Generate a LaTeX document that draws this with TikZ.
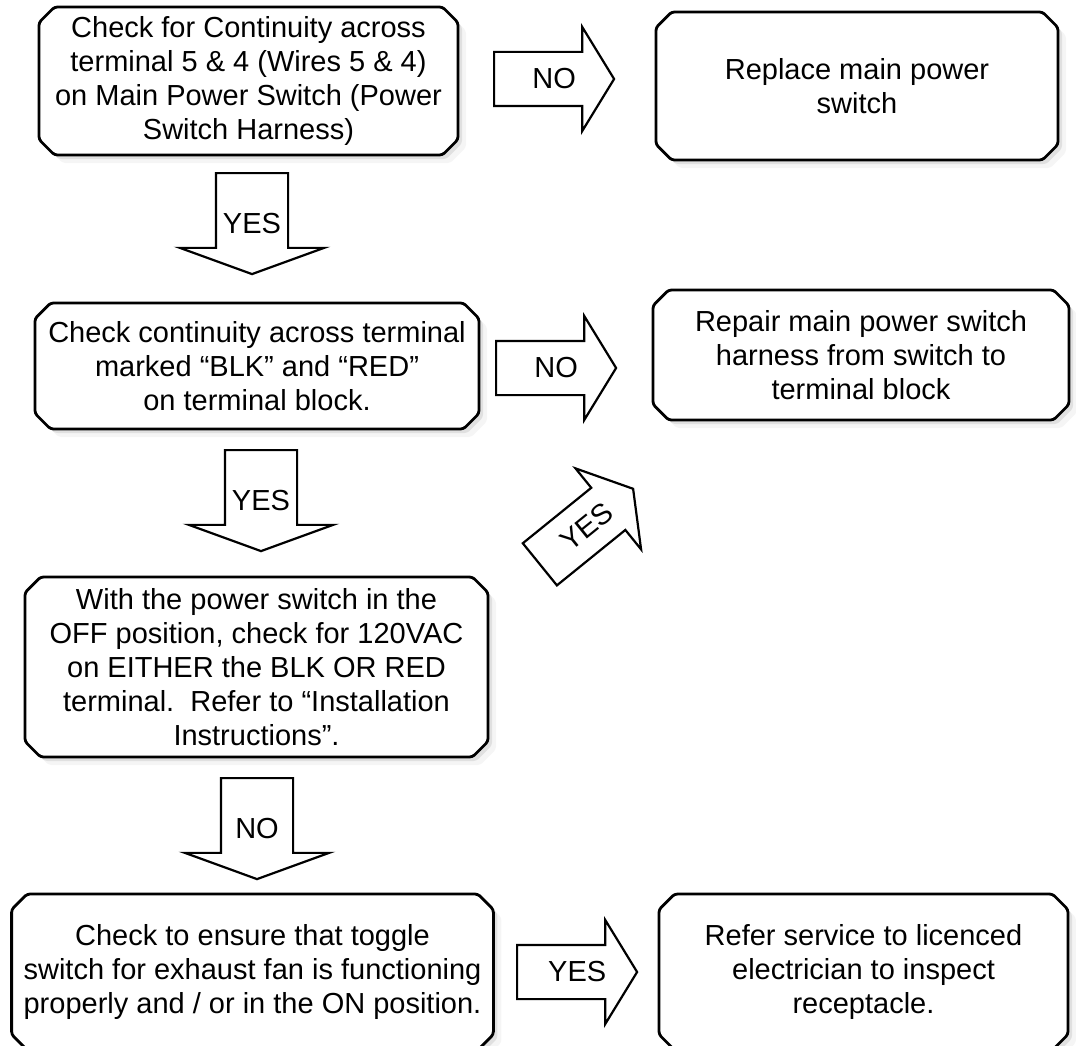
\documentclass[tikz,border=0pt]{standalone}
\usepackage{fontspec}
\setmainfont{Liberation Sans}
\usetikzlibrary{shapes.misc, shapes.arrows, shadows, calc}
\newcommand{\flowfont}{\fontsize{29pt}{34pt}\selectfont}

\begin{document}
\begin{tikzpicture}[x=1pt, y=-1pt,
        box/.style={chamfered rectangle, chamfered rectangle xsep=12pt, draw, line width=2.8pt, fill=white, align=center, font=\flowfont, inner sep=0pt, rounded corners=3pt,
            drop shadow={shadow xshift=8pt, shadow yshift=-8pt, opacity=.08},
            drop shadow={shadow xshift=4pt, shadow yshift=-4pt, opacity=.18}},
        rightarrow/.style={single arrow, draw, line width=2.2pt, fill=white, anchor=tail, single arrow head indent=0pt,
            single arrow head extend=25pt, single arrow tip angle=117, minimum height=120pt, minimum width=0pt, inner sep=26pt},
        downarrow/.style={rightarrow, shape border rotate=270, single arrow head extend=36pt, single arrow tip angle=140, minimum height=101pt, inner sep=35pt},
        arrowtext/.style={font=\flowfont, inner sep=0pt}
    ]
        \useasboundingbox (0,0) rectangle (1076,1046);

        % Steps of the check
        \node[box, minimum width=419pt, minimum height=148pt] (cont) at (248.5,81) {Check for Continuity across\\terminal 5 \& 4 (Wires 5 \& 4)\\on Main Power Switch (Power\\Switch Harness)};
        \node[box, minimum width=402pt, minimum height=148pt] (replace) at (857,86) {Replace main power\\switch};
        \node[box, minimum width=444pt, minimum height=126pt] (blkred) at (257,366) {Check continuity across terminal\\marked “BLK” and “RED”\\on terminal block.};
        \node[box, minimum width=416pt, minimum height=130pt] (harness) at (861,355) {Repair main power switch\\harness from switch to\\terminal block};
        \node[box, minimum width=463pt, minimum height=180pt] (volt) at (256.5,667) {With the power switch in the\\OFF position, check for 120VAC\\on EITHER the BLK OR RED\\terminal.\ \ Refer to “Installation\\Instructions”.};
        \node[box, minimum width=481pt, minimum height=156pt] (toggle) at (252.5,972) {Check to ensure that toggle\\switch for exhaust fan is functioning\\properly and / or in the ON position.};
        \node[box, minimum width=409pt, minimum height=156pt] (elec) at (863.5,972) {Refer service to licenced\\electrician to inspect\\receptacle.};

        % Block arrows, placed by their tails
        \node[rightarrow] (no1) at (493,79) {};
        \node[downarrow] (yes1) at (252,172) {};
        \node[rightarrow] (no2) at (495,368) {};
        \node[rightarrow, rotate=39] (yes2) at (539,565) {};
        \node[downarrow] (yes3) at (261,449) {};
        \node[downarrow] (no3) at (257,777) {};
        \node[rightarrow] (yes4) at (516,972) {};

        % Answers written on the arrows
        \node[arrowtext] (no1t) at ($(no1.tail)!.5!(no1.tip)$) {NO};
        \node[arrowtext] (yes1t) at ($(yes1.tail)!.5!(yes1.tip)$) {YES};
        \node[arrowtext] (no2t) at ($(no2.tail)!.5!(no2.tip)$) {NO};
        \node[arrowtext, rotate=39] (yes2t) at ($(yes2.tail)!.5!(yes2.tip)$) {YES};
        \node[arrowtext] (yes3t) at ($(yes3.tail)!.5!(yes3.tip)$) {YES};
        \node[arrowtext] (no3t) at ($(no3.tail)!.5!(no3.tip)$) {NO};
        \node[arrowtext] (yes4t) at ($(yes4.tail)!.5!(yes4.tip)$) {YES};
    \end{tikzpicture}
\end{document}
